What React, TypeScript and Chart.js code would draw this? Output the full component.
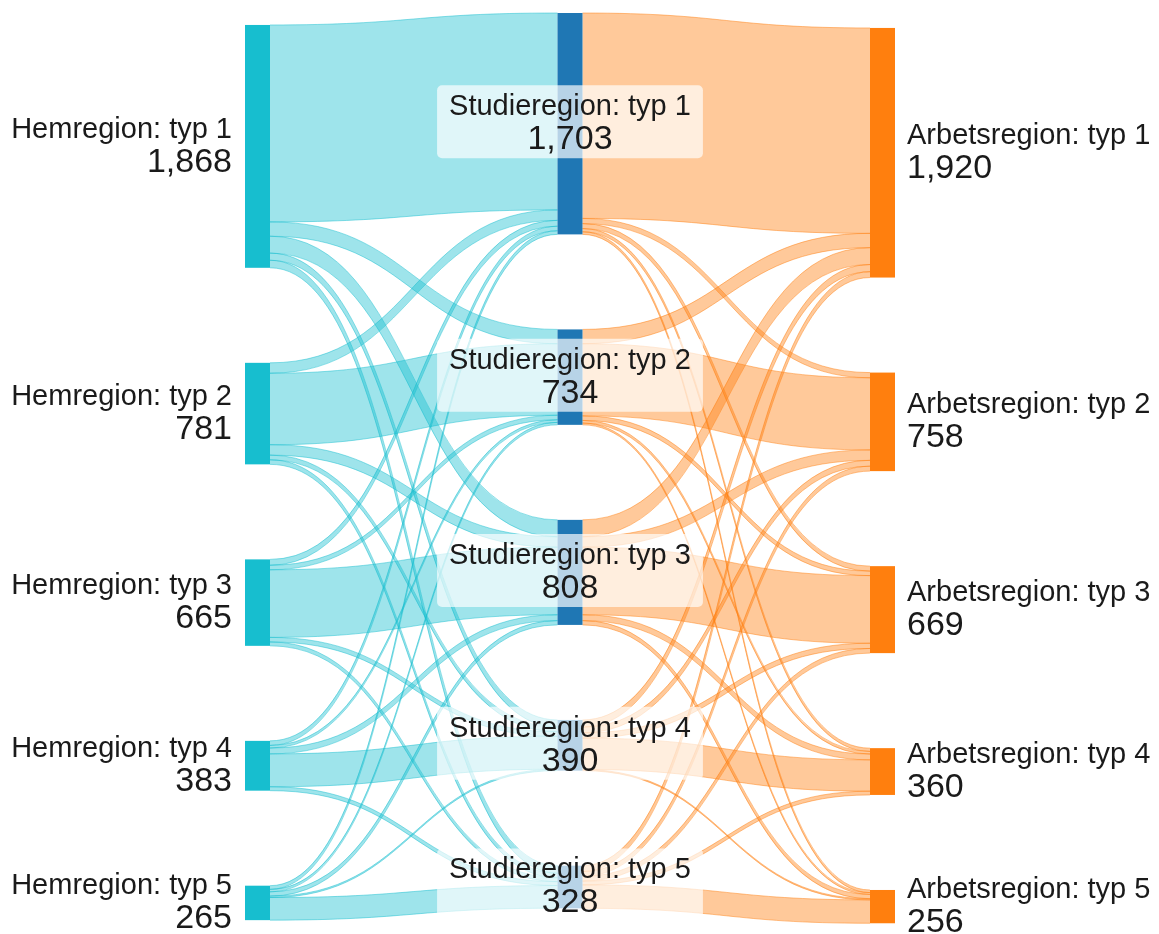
import { useEffect, useRef } from 'react';
import { Chart, registerables } from 'chart.js';

Chart.register(...registerables);

// ---- Data ----
const homeLabels = ['Hemregion: typ 1', 'Hemregion: typ 2', 'Hemregion: typ 3', 'Hemregion: typ 4', 'Hemregion: typ 5'];
const studyLabels = ['Studieregion: typ 1', 'Studieregion: typ 2', 'Studieregion: typ 3', 'Studieregion: typ 4', 'Studieregion: typ 5'];
const workLabels = ['Arbetsregion: typ 1', 'Arbetsregion: typ 2', 'Arbetsregion: typ 3', 'Arbetsregion: typ 4', 'Arbetsregion: typ 5'];

const homeValues = [1868, 781, 665, 383, 265];
const studyValues = [1703, 734, 808, 390, 328];
const workValues = [1920, 758, 669, 360, 256];

// rows: home region, columns: study region
const homeToStudy = [
  [1515, 110, 130, 55, 58],
  [80, 550, 80, 36, 35],
  [45, 35, 520, 35, 30],
  [35, 20, 45, 253, 30],
  [28, 19, 33, 11, 174],
];

// rows: study region, columns: work region
const studyToWork = [
  [1580, 40, 38, 25, 20],
  [110, 555, 35, 20, 14],
  [130, 80, 520, 45, 33],
  [55, 45, 40, 241, 9],
  [45, 38, 36, 29, 180],
];

// ---- Layout (value units along the vertical scale) ----
const columnOffsets = [92, 0, 115];
const nodePadding = 731;
const yMax = 7000;
const NODE_W = 25;
const FONT = '"Liberation Sans", Arial, Helvetica, sans-serif';

const nodeColors = ['#17becf', '#1f77b4', '#ff7f0e'];
const linkFill = ['rgba(23,190,207,0.42)', 'rgba(255,127,14,0.42)'];
const linkLine = ['rgba(23,190,207,0.6)', 'rgba(255,127,14,0.6)'];

const fmt = (v: number) => v.toLocaleString('en-US');

const sankeyPlugin = {
  id: 'sankeyDraw',
  afterDatasetsDraw(chart: any) {
    const ctx: CanvasRenderingContext2D = chart.ctx;
    const xs = chart.scales.x;
    const ys = chart.scales.y;
    const cols = [
      { labels: homeLabels, values: homeValues },
      { labels: studyLabels, values: studyValues },
      { labels: workLabels, values: workValues },
    ];
    const nodes = cols.map((col, c) => {
      let cursor = columnOffsets[c];
      const xc = xs.getPixelForValue(c);
      const left = c === 0 ? xc : c === 2 ? xc - NODE_W : xc - NODE_W / 2;
      return col.values.map((v) => {
        const top = cursor;
        cursor += v + nodePadding;
        return { x0: left, x1: left + NODE_W, top, value: v };
      });
    });

    const mats = [homeToStudy, studyToWork];
    ctx.save();
    mats.forEach((m, s) => {
      const src = nodes[s];
      const tgt = nodes[s + 1];
      ctx.fillStyle = linkFill[s];
      ctx.strokeStyle = linkLine[s];
      ctx.lineWidth = 0.8;
      for (let i = 0; i < m.length; i++) {
        for (let j = 0; j < m[i].length; j++) {
          const v = m[i][j];
          if (!v) continue;
          let so = 0;
          for (let jj = 0; jj < j; jj++) so += m[i][jj];
          let to = 0;
          for (let ii = 0; ii < i; ii++) to += m[ii][j];
          const x0 = src[i].x1;
          const x1 = tgt[j].x0;
          const xm = (x0 + x1) / 2;
          const sT = ys.getPixelForValue(src[i].top + so);
          const sB = ys.getPixelForValue(src[i].top + so + v);
          const tT = ys.getPixelForValue(tgt[j].top + to);
          const tB = ys.getPixelForValue(tgt[j].top + to + v);
          ctx.beginPath();
          ctx.moveTo(x0, sT);
          ctx.bezierCurveTo(xm, sT, xm, tT, x1, tT);
          ctx.lineTo(x1, tB);
          ctx.bezierCurveTo(xm, tB, xm, sB, x0, sB);
          ctx.closePath();
          ctx.fill();
          ctx.beginPath();
          ctx.moveTo(x0, sT);
          ctx.bezierCurveTo(xm, sT, xm, tT, x1, tT);
          ctx.moveTo(x1, tB);
          ctx.bezierCurveTo(xm, tB, xm, sB, x0, sB);
          ctx.stroke();
        }
      }
    });

    nodes.forEach((col, c) => {
      ctx.fillStyle = nodeColors[c];
      col.forEach((n) => {
        const y0 = ys.getPixelForValue(n.top);
        const y1 = ys.getPixelForValue(n.top + n.value);
        ctx.fillRect(n.x0, y0, n.x1 - n.x0, y1 - y0);
      });
    });

    const f1 = `29px ${FONT}`;
    const f2 = `34px ${FONT}`;
    nodes.forEach((col, c) => {
      col.forEach((n, i) => {
        const y0 = ys.getPixelForValue(n.top);
        const y1 = ys.getPixelForValue(n.top + n.value);
        const cy = (y0 + y1) / 2;
        const label = cols[c].labels[i];
        const num = fmt(cols[c].values[i]);
        let tx: number;
        if (c === 0) {
          tx = n.x0 - 13;
          ctx.textAlign = 'right';
        } else if (c === 2) {
          tx = n.x1 + 12;
          ctx.textAlign = 'left';
        } else {
          tx = (n.x0 + n.x1) / 2;
          ctx.textAlign = 'center';
          ctx.font = f1;
          const w = ctx.measureText(label).width + 24;
          ctx.fillStyle = 'rgba(255,255,255,0.68)';
          ctx.beginPath();
          (ctx as any).roundRect(tx - w / 2, cy - 38.5, w, 73, 5);
          ctx.fill();
        }
        ctx.fillStyle = '#1a1a1a';
        ctx.textBaseline = 'alphabetic';
        ctx.font = f1;
        ctx.fillText(label, tx, cy - 8.5);
        ctx.font = f2;
        ctx.fillText(num, tx, cy + 25.5);
      });
    });
    ctx.restore();
  },
};

export default function App() {
  const ref = useRef<HTMLCanvasElement | null>(null);
  useEffect(() => {
    if (!ref.current) return;
    const chart = new Chart(ref.current, {
      type: 'scatter',
      data: { datasets: [{ data: [] }] },
      options: {
        animation: false,
        responsive: true,
        maintainAspectRatio: false,
        layout: { padding: { left: 245, right: 264, top: 13, bottom: 11 } },
        plugins: { legend: { display: false }, tooltip: { enabled: false } },
        scales: {
          x: { type: 'linear', min: 0, max: 2, display: false },
          y: { type: 'linear', min: 0, max: yMax, reverse: true, display: false },
        },
      },
      plugins: [sankeyPlugin],
    });
    return () => chart.destroy();
  }, []);
  return (
    <div style={{ position: 'fixed', left: 0, top: 0, width: 1159, height: 934, background: '#fff' }}>
      <canvas ref={ref} />
    </div>
  );
}
